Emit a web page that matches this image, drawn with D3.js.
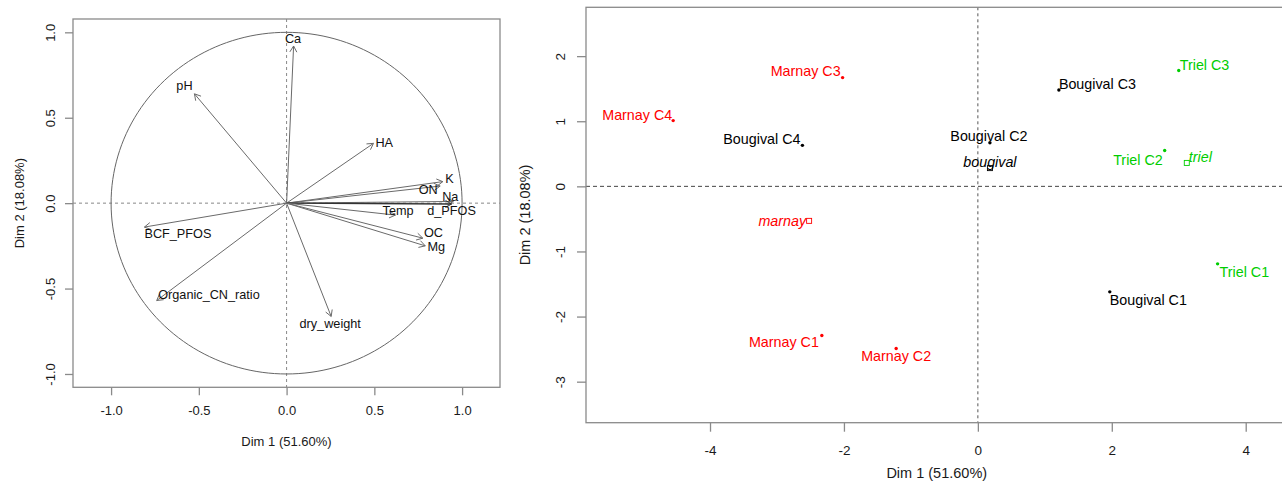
<!DOCTYPE html>
<html><head><meta charset="utf-8">
<script src="https://cdn.jsdelivr.net/npm/d3@7"></script>
<style>
html,body{margin:0;padding:0;background:#fff;}
svg{display:block;font-family:"Liberation Sans",Arial,sans-serif;}
</style></head>
<body>
<svg id="chart" width="1282" height="490"></svg>
<script>
// ---------- Data: variables factor map ----------
const varNames = ["Ca","pH","HA","K","ON","Na","d_PFOS","Temp","OC","Mg","BCF_PFOS","Organic_CN_ratio","dry_weight"];
const varDim1  = [0.04,-0.525,0.495,0.89,0.875,0.95,0.94,0.62,0.776,0.79,-0.81,-0.74,0.254];
const varDim2  = [0.92,0.64,0.35,0.126,0.10,0.01,-0.005,-0.07,-0.205,-0.25,-0.14,-0.57,-0.663];
// ---------- Data: individuals factor map ----------
const indNames = ["Marnay C1","Marnay C2","Marnay C3","Marnay C4","Bougival C1","Bougival C2","Bougival C3","Bougival C4","Triel C1","Triel C2","Triel C3"];
const indSite  = ["marnay","marnay","marnay","marnay","bougival","bougival","bougival","bougival","triel","triel","triel"];
const indDim1  = [-2.33,-1.22,-2.02,-4.55,1.97,0.18,1.21,-2.62,3.58,2.79,3.00];
const indDim2  = [-2.29,-2.49,1.67,1.01,-1.62,0.67,1.48,0.63,-1.19,0.55,1.78];
const siteNames = ["marnay","bougival","triel"];
const siteDim1  = [-2.52,0.18,3.12];
const siteDim2  = [-0.53,0.28,0.36];
// ---------- Tick labels / titles ----------
const leftTicks  = [-1.0,-0.5,0.0,0.5,1.0];
const rightXTicks = [-4,-2,0,2,4];
const rightYTicks = [-3,-2,-1,0,1,2];
const xTitle = "Dim 1 (51.60%)";
const yTitle = "Dim 2 (18.08%)";

// ---------- Layout (label placement, px) ----------
const varLabelPos = {
  "Ca":[-0.6,-6.7,"middle"],"pH":[-10,-8.3,"middle"],"HA":[2,0,"start"],"K":[6.7,-2.7,"middle"],
  "ON":[-12,4.3,"middle"],"Na":[-3,-4.7,"middle"],"d_PFOS":[0,7,"middle"],"Temp":[2.7,-4.6,"middle"],
  "OC":[10.7,-5,"middle"],"Mg":[11,0.7,"middle"],"BCF_PFOS":[0,7,"start"],
  "Organic_CN_ratio":[1.5,-6,"start"],"dry_weight":[-1,7.3,"middle"]
};
const indLabelPos = {
  "Marnay C1":[-3,7,"end"],"Marnay C2":[0,7.7,"middle"],"Marnay C3":[-2,-7,"end"],"Marnay C4":[-1,-5.3,"end"],
  "Bougival C1":[0,7.7,"start"],"Bougival C2":[-1,-6.6,"middle"],"Bougival C3":[0,-5.7,"start"],"Bougival C4":[-2,-6.4,"end"],
  "Triel C1":[2,8.3,"start"],"Triel C2":[-2,9,"end"],"Triel C3":[1,-5.3,"start"],
  "marnay":[-3,0,"end"],"bougival":[0,-6,"middle"],"triel":[2,-6,"start"]
};
const siteColor = {marnay:"#FF0000", bougival:"#000000", triel:"#00CD00"};

const hy = f => d => f(d).replace("\u2212","-");
const svg = d3.select("#chart");
const axisCol = "#8a8a8a", textCol = "#1a1a1a";

// ================= LEFT PANEL =================
const L = {x0:73, x1:500, y0:19, y1:387.3};
const xL = d3.scaleLinear().domain([-1.217,1.216]).range([L.x0,L.x1]);
const yL = d3.scaleLinear().domain([-1.078,1.078]).range([L.y1,L.y0]);
const gL = svg.append("g");

gL.append("line").attr("x1",L.x0).attr("x2",L.x1).attr("y1",yL(0)).attr("y2",yL(0))
  .attr("stroke","#888").attr("stroke-dasharray","3,3").attr("stroke-width",1);
gL.append("line").attr("x1",xL(0)).attr("x2",xL(0)).attr("y1",L.y0).attr("y2",L.y1)
  .attr("stroke","#888").attr("stroke-dasharray","3,3").attr("stroke-width",1);
const circ = d3.range(0,361,2).map(a=>[xL(Math.cos(a*Math.PI/180)), yL(Math.sin(a*Math.PI/180))]);
gL.append("path").attr("d",d3.line()(circ)).attr("fill","none").attr("stroke","#666").attr("stroke-width",1);

varNames.forEach((n,i)=>{
  const x1=xL(0), y1=yL(0), x2=xL(varDim1[i]), y2=yL(varDim2[i]);
  const col = n==="d_PFOS" ? "#333" : "#6a6a6a";
  const sw = n==="d_PFOS" ? 1.4 : 1;
  gL.append("line").attr("x1",x1).attr("y1",y1).attr("x2",x2).attr("y2",y2).attr("stroke",col).attr("stroke-width",sw);
  const ang = Math.atan2(y2-y1,x2-x1), hl=7, ha=Math.PI/6;
  [ang+Math.PI-ha, ang+Math.PI+ha].forEach(a=>{
    gL.append("line").attr("x1",x2).attr("y1",y2)
      .attr("x2",x2+hl*Math.cos(a)).attr("y2",y2+hl*Math.sin(a)).attr("stroke",col).attr("stroke-width",1);
  });
  const p = varLabelPos[n];
  gL.append("text").attr("x",x2+p[0]).attr("y",y2+p[1]).attr("text-anchor",p[2])
    .attr("dominant-baseline","central").attr("font-size",12.7).attr("fill","#111").text(n);
});

gL.append("rect").attr("x",L.x0).attr("y",L.y0).attr("width",L.x1-L.x0).attr("height",L.y1-L.y0)
  .attr("fill","none").attr("stroke",axisCol).attr("stroke-width",1.3);

const axLx = gL.append("g").attr("transform",`translate(0,${L.y1})`)
  .call(d3.axisBottom(xL).tickValues(leftTicks).tickFormat(hy(d3.format(".1f"))).tickSize(8));
const axLy = gL.append("g").attr("transform",`translate(${L.x0},0)`)
  .call(d3.axisLeft(yL).tickValues(leftTicks).tickFormat(hy(d3.format(".1f"))).tickSize(8));
[axLx,axLy].forEach(a=>{
  a.select(".domain").remove();
  a.selectAll(".tick line").attr("stroke",axisCol).attr("stroke-width",1.3);
  a.selectAll(".tick text").attr("font-size",13).attr("fill",textCol).attr("font-family","Liberation Sans, Arial, sans-serif");
});
axLx.selectAll(".tick text").attr("dy",null).attr("y",null).attr("transform","translate(0,23.4)").attr("dominant-baseline","central");
axLy.selectAll(".tick text").attr("x",null).attr("dy",null).attr("text-anchor","middle")
  .attr("dominant-baseline","central").attr("transform","translate(-23,0) rotate(-90)");

gL.append("text").attr("x",(L.x0+L.x1)/2).attr("y",441.7).attr("text-anchor","middle").attr("dominant-baseline","central")
  .attr("font-size",13).attr("fill",textCol).text(xTitle);
gL.append("text").attr("transform",`translate(19,${(L.y0+L.y1)/2}) rotate(-90)`).attr("text-anchor","middle")
  .attr("dominant-baseline","central").attr("font-size",13).attr("fill",textCol).text(yTitle);

// ================= RIGHT PANEL =================
const R = {x0:586, x1:1287.5, y0:7.3, y1:422.7};
const xR = d3.scaleLinear().domain([-5.852,4.624]).range([R.x0,R.x1]);
const yR = d3.scaleLinear().domain([-3.63,2.75]).range([R.y1,R.y0]);
const gR = svg.append("g");

gR.append("line").attr("x1",R.x0).attr("x2",R.x1).attr("y1",yR(0)).attr("y2",yR(0))
  .attr("stroke","#444").attr("stroke-dasharray","4,3").attr("stroke-width",1);
gR.append("line").attr("x1",xR(0)).attr("x2",xR(0)).attr("y1",R.y0).attr("y2",R.y1)
  .attr("stroke","#555").attr("stroke-dasharray","3,3").attr("stroke-width",1);

indNames.forEach((n,i)=>{
  const x=xR(indDim1[i]), y=yR(indDim2[i]), c=siteColor[indSite[i]];
  gR.append("circle").attr("cx",x).attr("cy",y).attr("r",1.7).attr("fill",c);
  const p=indLabelPos[n];
  gR.append("text").attr("x",x+p[0]).attr("y",y+p[1]).attr("text-anchor",p[2]).attr("dominant-baseline","central")
    .attr("font-size",14.3).attr("fill",c).text(n);
});
siteNames.forEach((n,i)=>{
  const x=xR(siteDim1[i]), y=yR(siteDim2[i]), c=siteColor[n];
  gR.append("rect").attr("x",x-2.5).attr("y",y-2.5).attr("width",5).attr("height",5)
    .attr("fill","none").attr("stroke",c).attr("stroke-width",0.9);
  const p=indLabelPos[n];
  gR.append("text").attr("x",x+p[0]).attr("y",y+p[1]).attr("text-anchor",p[2]).attr("dominant-baseline","central")
    .attr("font-size",14.3).attr("font-style","italic").attr("fill",c).text(n);
});

gR.append("rect").attr("x",R.x0).attr("y",R.y0).attr("width",R.x1-R.x0).attr("height",R.y1-R.y0)
  .attr("fill","none").attr("stroke",axisCol).attr("stroke-width",1.3);

const axRx = gR.append("g").attr("transform",`translate(0,${R.y1})`)
  .call(d3.axisBottom(xR).tickValues(rightXTicks).tickFormat(hy(d3.format("d"))).tickSize(9));
const axRy = gR.append("g").attr("transform",`translate(${R.x0},0)`)
  .call(d3.axisLeft(yR).tickValues(rightYTicks).tickFormat(hy(d3.format("d"))).tickSize(9));
[axRx,axRy].forEach(a=>{
  a.select(".domain").remove();
  a.selectAll(".tick line").attr("stroke",axisCol).attr("stroke-width",1.3);
  a.selectAll(".tick text").attr("font-size",13.5).attr("fill",textCol).attr("font-family","Liberation Sans, Arial, sans-serif");
});
axRx.selectAll(".tick text").attr("dy",null).attr("y",null).attr("transform","translate(0,27.3)").attr("dominant-baseline","central");
axRy.selectAll(".tick text").attr("x",null).attr("dy",null).attr("text-anchor","middle")
  .attr("dominant-baseline","central").attr("transform","translate(-26,0) rotate(-90)");

gR.append("text").attr("x",(R.x0+R.x1)/2).attr("y",473).attr("text-anchor","middle").attr("dominant-baseline","central")
  .attr("font-size",14.5).attr("fill",textCol).text(xTitle);
gR.append("text").attr("transform",`translate(525,${(R.y0+R.y1)/2}) rotate(-90)`).attr("text-anchor","middle")
  .attr("dominant-baseline","central").attr("font-size",14.5).attr("fill",textCol).text(yTitle);
</script>
</body></html>
